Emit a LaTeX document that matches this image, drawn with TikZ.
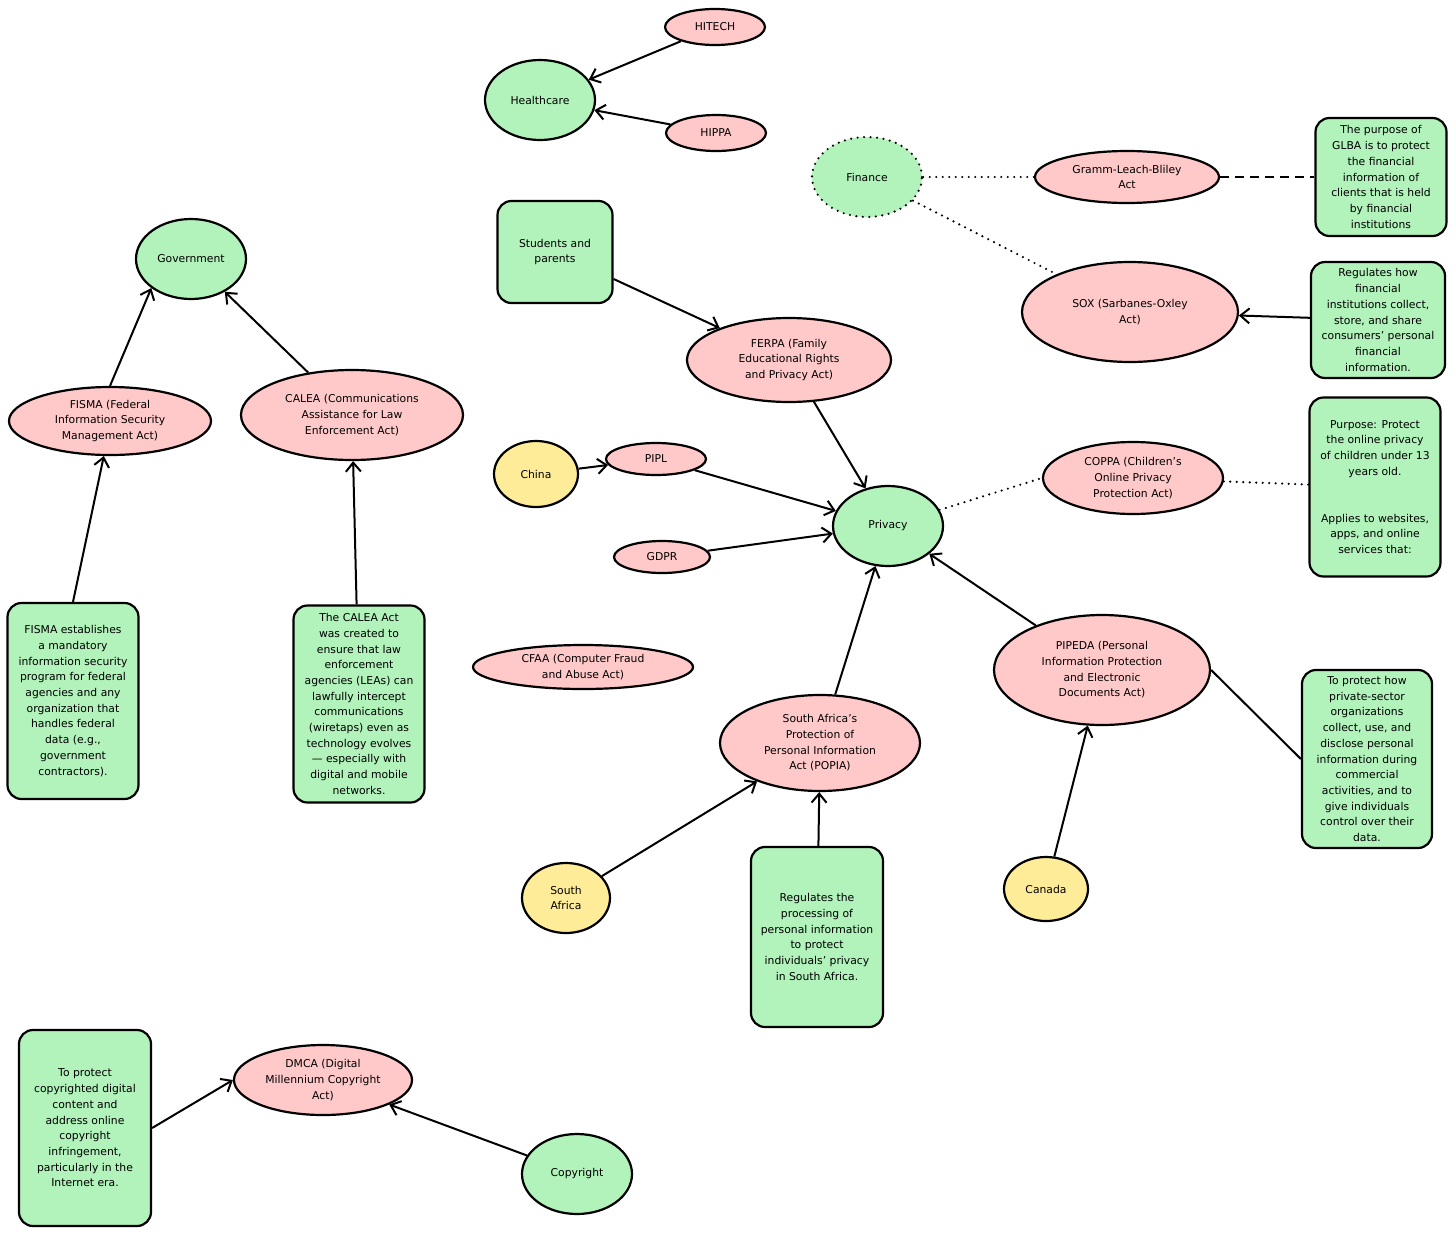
\documentclass[tikz,border=0pt]{standalone}
\usepackage{fontspec}
\setmainfont{DejaVu Sans}
\usetikzlibrary{arrows.meta,shapes.geometric}
\definecolor{actpink}{HTML}{FFC9C9}
\definecolor{fieldgreen}{HTML}{B2F2BB}
\definecolor{landyellow}{HTML}{FFEC99}
\begin{document}
\begin{tikzpicture}[x=1pt,y=-1pt,
  every node/.style={align=center,font=\fontsize{10.8}{15.7}\selectfont},
  act/.style={ellipse,draw,line width=2.2pt,fill=actpink,inner sep=0pt},
  field/.style={ellipse,draw,line width=2.2pt,fill=fieldgreen,inner sep=0pt,minimum width=110pt,minimum height=80pt},
  land/.style={ellipse,draw,line width=2.2pt,fill=landyellow,inner sep=0pt},
  note/.style={draw,line width=2.2pt,fill=fieldgreen,rounded corners=14pt,inner sep=1pt},
  link/.style={line width=2pt,-{Straight Barb[length=9pt,width=15pt]}},
  dots/.style={line width=2.4pt,line cap=round,dash pattern=on 0pt off 6.5pt}]
\useasboundingbox(0,0)rectangle(1456,1234);
%fields
\node[field](health)at(540,100){Healthcare};
\node[field,dots](finance)at(867,177){Finance};
\node[field](gov)at(191,259){Government};
\node[field](privacy)at(888,526){Privacy};
\node[field](copyright)at(577,1174){Copyright};
%countries
\node[land,minimum width=84pt,minimum height=66pt](china)at(536,474){China};
\node[land,minimum width=88pt,minimum height=70pt](safrica)at(566,898){South\\Africa};
\node[land,minimum width=84pt,minimum height=64pt](canada)at(1046,889){Canada};
%acts
\node[act,minimum width=100pt,minimum height=36pt](hitech)at(715,27){HITECH};
\node[act,minimum width=100pt,minimum height=36pt](hippa)at(716,133){HIPPA};
\node[act,minimum width=184pt,minimum height=52pt](glba)at(1127,177){Gramm-Leach-Bliley\\Act};
\node[act,minimum width=216pt,minimum height=100pt](sox)at(1130,312){SOX (Sarbanes-Oxley\\Act)};
\node[act,minimum width=204pt,minimum height=84pt](ferpa)at(789,360){FERPA (Family\\Educational Rights\\and Privacy Act)};
\node[act,minimum width=202pt,minimum height=68pt](fisma)at(110,421){FISMA (Federal\\Information Security\\Management Act)};
\node[act,minimum width=222pt,minimum height=90pt](calea)at(352,415){CALEA (Communications\\Assistance for Law\\Enforcement Act)};
\node[act,minimum width=100pt,minimum height=32pt](pipl)at(656,459){PIPL};
\node[act,minimum width=96pt,minimum height=32pt](gdpr)at(662,557){GDPR};
\node[act,minimum width=180pt,minimum height=72pt](coppa)at(1133,478){COPPA (Children’s\\Online Privacy\\Protection Act)};
\node[act,minimum width=220pt,minimum height=44pt](cfaa)at(583,667){CFAA (Computer Fraud\\and Abuse Act)};
\node[act,minimum width=216pt,minimum height=110pt](pipeda)at(1102,670){PIPEDA (Personal\\Information Protection\\and Electronic\\Documents Act)};
\node[act,minimum width=200pt,minimum height=96pt](popia)at(820,743){South Africa’s\\Protection of\\Personal Information\\Act (POPIA)};
\node[act,minimum width=178pt,minimum height=70pt](dmca)at(323,1080){DMCA (Digital\\Millennium Copyright\\Act)};
%notes
\node[note,minimum width=131pt,minimum height=118pt](glbanote)at(1381,177){The purpose of\\GLBA is to protect\\the financial\\information of\\clients that is held\\by financial\\institutions};
\node[note,minimum width=134pt,minimum height=116pt](soxnote)at(1378,320){Regulates how\\financial\\institutions collect,\\store, and share\\consumers’ personal\\financial\\information.};
\node[note,minimum width=115pt,minimum height=102pt](students)at(555,252){Students and\\parents};
\node[note,minimum width=131pt,minimum height=179pt](coppanote)at(1375,487){Purpose: Protect\\the online privacy\\of children under 13\\years old.\\[31pt]Applies to websites,\\apps, and online\\services that:};
\node[note,minimum width=130pt,minimum height=178pt](pipedanote)at(1367,759){To protect how\\private-sector\\organizations\\collect, use, and\\disclose personal\\information during\\commercial\\activities, and to\\give individuals\\control over their\\data.};
\node[note,minimum width=131pt,minimum height=196pt](fismanote)at(73,701){FISMA establishes\\a mandatory\\information security\\program for federal\\agencies and any\\organization that\\handles federal\\data (e.g.,\\government\\contractors).};
\node[note,minimum width=131pt,minimum height=197pt](caleanote)at(359,704){The CALEA Act\\was created to\\ensure that law\\enforcement\\agencies (LEAs) can\\lawfully intercept\\communications\\(wiretaps) even as\\technology evolves\\— especially with\\digital and mobile\\networks.};
\node[note,minimum width=132pt,minimum height=180pt](popianote)at(817,937){Regulates the\\processing of\\personal information\\to protect\\individuals’ privacy\\in South Africa.};
\node[note,minimum width=132pt,minimum height=196pt](dmcanote)at(85,1128){To protect\\copyrighted digital\\content and\\address online\\copyright\\infringement,\\particularly in the\\Internet era.};
%arrows
\foreach \a/\b in {hitech/health,hippa/health,soxnote/sox,students/ferpa,ferpa/privacy,china/pipl,pipl/privacy,gdpr/privacy,popia/privacy,pipeda/privacy,safrica/popia,popianote/popia,canada/pipeda,calea/gov,caleanote/calea,copyright/dmca}{\draw[link](\a)--(\b);}
\draw[link](fisma.north)--(gov.south west);
\draw[link](fismanote.north)--(fisma.-100);
\draw[link](dmcanote.east)--(dmca.west);
%plain lines
\draw[dots](finance)--(glba);
\draw[dots](finance)--(sox);
\draw[dots](privacy)--(coppa.west);
\draw[dots](coppa)--(coppanote);
\draw[line width=2pt,dash pattern=on 9pt off 6pt](glba)--(glbanote);
\draw[line width=2pt](pipeda.east)--(pipedanote.west);
\end{tikzpicture}
\end{document}
